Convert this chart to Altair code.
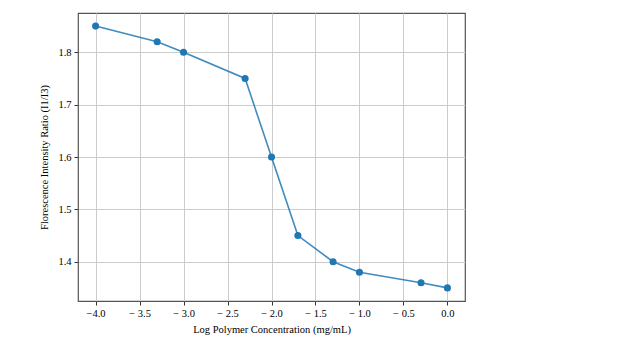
import altair as alt
import pandas as pd

log_conc = [-4.0, -3.3, -3.0, -2.3, -2.0, -1.7, -1.3, -1.0, -0.3, 0.0]
ratio = [1.85, 1.82, 1.80, 1.75, 1.60, 1.45, 1.40, 1.38, 1.36, 1.35]
x_ticks = [-4.0, -3.5, -3.0, -2.5, -2.0, -1.5, -1.0, -0.5, 0.0]
y_ticks = [1.4, 1.5, 1.6, 1.7, 1.8]

df = pd.DataFrame({"x": log_conc, "y": ratio})

font = "Liberation Serif"
color = "#1f77b4"

x_enc = alt.X("x:Q", scale=alt.Scale(domain=[-4.2, 0.2], nice=False, zero=False),
              axis=alt.Axis(title="Log Polymer Concentration (mg/mL)", values=x_ticks,
                            labelExpr="datum.value == -4 ? '\u22124.0' : (datum.value < 0 ? '\u2212 ' + format(-datum.value, '.1f') : format(datum.value, '.1f'))"))
y_enc = alt.Y("y:Q", scale=alt.Scale(domain=[1.325, 1.875], nice=False, zero=False),
              axis=alt.Axis(title="Florescence Intensity Ratio (I1/I3)", values=y_ticks, format=".1f"))

line = alt.Chart(df).mark_line(color=color, strokeWidth=1.6, opacity=0.85).encode(x=x_enc, y=y_enc)
pts = alt.Chart(df).mark_point(filled=True, color=color, size=50, opacity=1).encode(x="x:Q", y="y:Q")

chart = (line + pts).properties(
    width=387, height=288,
    autosize=alt.AutoSizeParams(type="none"),
    padding={"left": 78, "top": 13, "right": 167, "bottom": 37},
).configure_view(stroke="#555555", strokeWidth=1.2).configure_axis(
    labelFont=font, titleFont=font, labelFontSize=10.5, titleFontSize=10.5,
    titleFontWeight="normal", labelColor="#000000", titleColor="#000000",
    grid=True, gridColor="#cccccc", gridWidth=1, domain=False,
    tickColor="#333333", tickSize=4, labelPadding=3,
).configure_axisX(titlePadding=6).configure_axisY(titlePadding=8)

chart.save("out.html", embed_options={"renderer": "svg", "actions": False})
